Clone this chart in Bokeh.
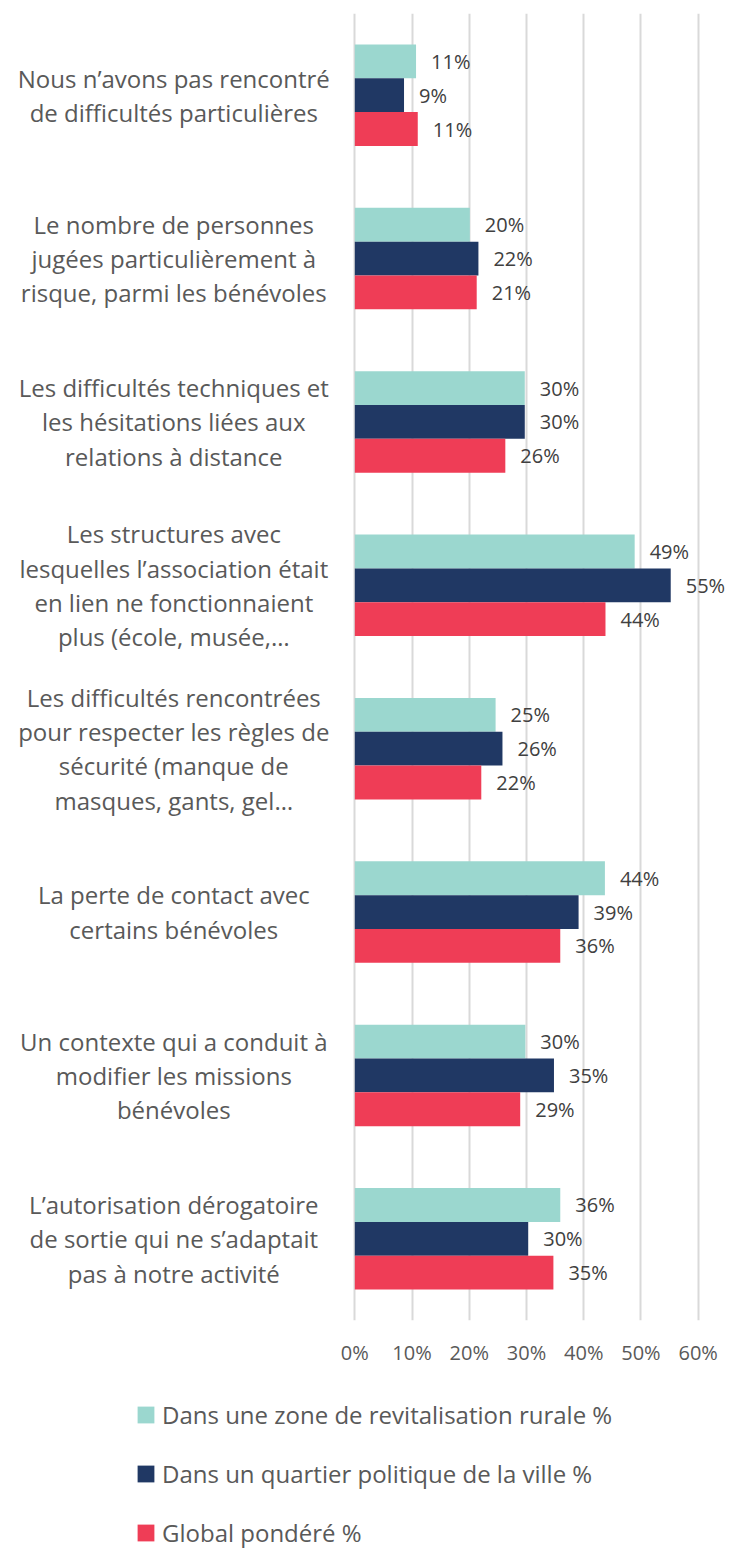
from bokeh.plotting import figure
from bokeh.layouts import column
from bokeh.models import (ColumnDataSource, FactorRange, Range1d, FixedTicker,
                          PrintfTickFormatter, Legend, LegendItem)
from bokeh.transform import dodge
from bokeh.core.properties import value
from bokeh.embed import file_html
from bokeh.resources import INLINE

# ---------------- data ----------------
categories = [
    "Nous n’avons pas rencontré\nde difficultés particulières",
    "Le nombre de personnes\njugées particulièrement à\nrisque, parmi les bénévoles",
    "Les difficultés techniques et\nles hésitations liées aux\nrelations à distance",
    "Les structures avec\nlesquelles l’association était\nen lien ne fonctionnaient\nplus (école, musée,…",
    "Les difficultés rencontrées\npour respecter les règles de\nsécurité (manque de\nmasques, gants, gel…",
    "La perte de contact avec\ncertains bénévoles",
    "Un contexte qui a conduit à\nmodifier les missions\nbénévoles",
    "L’autorisation dérogatoire\nde sortie qui ne s’adaptait\npas à notre activité",
]
rural = [10.7, 20.1, 29.7, 48.9, 24.6, 43.7, 29.8, 35.9]
qpv = [8.6, 21.6, 29.7, 55.2, 25.8, 39.1, 34.8, 30.3]
glob = [11.0, 21.3, 26.3, 43.8, 22.1, 35.9, 28.9, 34.7]
series_names = [
    "Dans une zone de revitalisation rurale %",
    "Dans un quartier politique de la ville %",
    "Global pondéré %",
]
x_ticks = [0, 10, 20, 30, 40, 50, 60]

# ---------------- style ----------------
colors = ["#9BD7CF", "#203864", "#EF3D56"]
FONT = "Open Sans"
BAR_H = 0.207

def pct(v):
    return f"{int(v + 0.5)}%"

src = ColumnDataSource(dict(
    cat=categories,
    rural=rural, qpv=qpv, glob=glob,
    rural_lbl=[pct(v) for v in rural],
    qpv_lbl=[pct(v) for v in qpv],
    glob_lbl=[pct(v) for v in glob],
))
series_cols = ["rural", "qpv", "glob"]

p = figure(frame_width=729, frame_height=1307,
           y_range=FactorRange(*reversed(categories), range_padding=0, factor_padding=0),
           x_range=Range1d(-61.905, 65.469),
           y_axis_location=None,
           output_backend="svg", toolbar_location=None,
           min_border_left=0, min_border_right=0,
           min_border_top=13, min_border_bottom=52)
p.outline_line_color = None
p.background_fill_color = "white"
p.border_fill_color = "white"

offsets = [BAR_H, 0.0, -BAR_H]
for col, off, c in zip(series_cols, offsets, colors):
    p.hbar(y=dodge("cat", off, range=p.y_range), right=col, left=0,
           height=BAR_H, source=src, fill_color=c, line_color=None)
    p.text(x=col, y=dodge("cat", off, range=p.y_range), text=col + "_lbl",
           x_offset=15, text_baseline="middle", text_align="left",
           text_font=value(FONT), text_font_size="20px", text_color="#404040",
           source=src)

# category labels (left of the value axis)
p.text(x=0, y="cat", text="cat", source=src, x_offset=-181,
       text_align="center", text_baseline="middle",
       text_font=value(FONT), text_font_size="24px",
       text_color="#595959", text_line_height=1.04)

# x axis
p.xaxis.ticker = FixedTicker(ticks=x_ticks)
p.xaxis.formatter = PrintfTickFormatter(format="%d%%")
p.xaxis.axis_line_color = None
p.xaxis.major_tick_line_color = None
p.xaxis.minor_tick_line_color = None
p.xaxis.major_tick_out = 0
p.xaxis.major_label_text_font = FONT
p.xaxis.major_label_text_font_size = "20px"
p.xaxis.major_label_text_color = "#595959"
p.xaxis.major_label_standoff = 18

p.xgrid.ticker = FixedTicker(ticks=x_ticks)
p.xgrid.grid_line_color = "#d9d9d9"
p.xgrid.grid_line_width = 2
p.ygrid.visible = False

# ---------------- legend strip ----------------
leg = figure(width=729, height=177, x_axis_location=None, y_axis_location=None,
             output_backend="svg", toolbar_location=None,
             min_border_left=0, min_border_right=0, min_border_top=0, min_border_bottom=0)
leg.outline_line_color = None
leg.xgrid.visible = False
leg.ygrid.visible = False
leg.border_fill_color = "white"
items = []
for n, col, c in zip(series_names, series_cols, colors):
    # legend swatches only: same series, not shown in this strip
    r = leg.hbar(y=0, right=col, left=0, height=1, source=src,
                 fill_color=c, line_color=None, visible=False)
    items.append(LegendItem(label=n, renderers=[r]))

legend = Legend(items=items, location=(135, 0), orientation="vertical",
                glyph_width=21, glyph_height=21, label_standoff=6, spacing=26,
                padding=0, margin=0, border_line_color=None, background_fill_alpha=0,
                label_text_font=FONT, label_text_font_size="24px",
                label_text_color="#595959", label_height=17)
leg.add_layout(legend)

layout = column(p, leg, spacing=0)
open("out.html", "w").write(file_html(layout, INLINE))
